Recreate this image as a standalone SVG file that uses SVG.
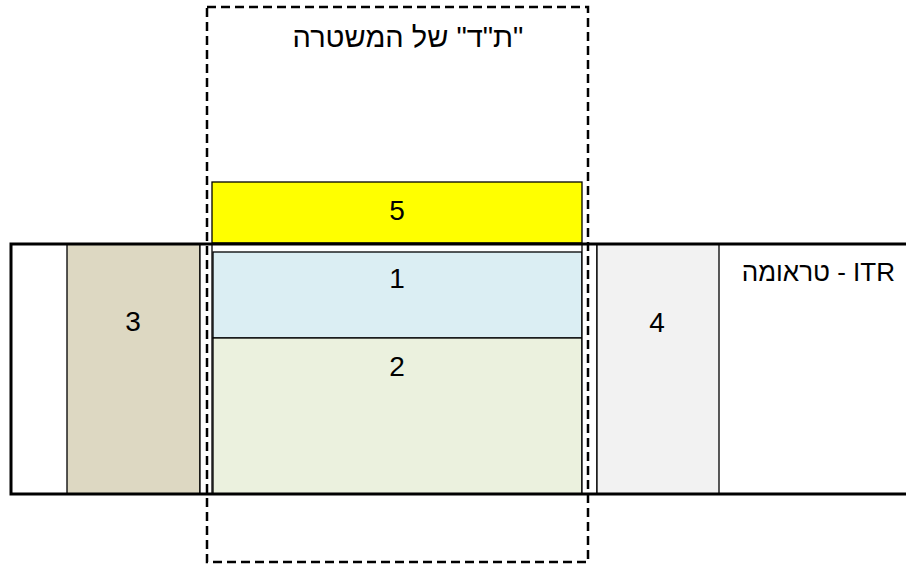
<svg xmlns="http://www.w3.org/2000/svg" width="906" height="564" viewBox="0 0 906 564">
<style>
.box{stroke:#000;stroke-width:1.3}
.lbl{font-family:"Liberation Sans",Arial,sans-serif;font-size:28px;text-anchor:middle;fill:#000}
.heb{font-family:"Liberation Sans",Arial,sans-serif;fill:#000}
.frame{stroke:#000;stroke-width:3;fill:none}
</style>
<rect width="906" height="564" fill="#fff"/>
<g id="node-3"><rect class="box" x="67" y="244" width="133" height="250" fill="#DDD8C2"/><text class="lbl" x="133" y="331">3</text></g>
<g id="gap-left"><rect class="box" x="200" y="244" width="12" height="250" fill="#fff"/></g>
<g id="node-1"><rect class="box" x="213" y="252" width="369" height="86" fill="#DBEEF3"/><text class="lbl" x="397" y="288">1</text></g>
<g id="node-2"><rect class="box" x="213" y="338" width="369" height="156" fill="#EBF1DE"/><text class="lbl" x="397" y="376">2</text></g>
<g id="gap-right"><rect class="box" x="582" y="244" width="15" height="250" fill="#fff"/></g>
<g id="node-4"><rect class="box" x="597" y="244" width="122" height="250" fill="#F2F2F2"/><text class="lbl" x="657" y="332">4</text></g>
<g id="node-5"><rect class="box" x="212" y="182" width="370" height="61" fill="#FFFF00"/><text class="lbl" x="397" y="220">5</text></g>
<g id="frame"><path class="frame" d="M906,244 H11 V494 H906"/></g>
<g id="police"><rect x="207" y="7" width="381" height="555" fill="none" stroke="#000" stroke-width="2.5" stroke-dasharray="9,5"/><text class="heb" x="408" y="47" font-size="29" text-anchor="middle" direction="rtl">"ת"ד" של המשטרה</text></g>
<g id="trauma"><text class="heb" x="895" y="281" font-size="26" text-anchor="start" direction="rtl">ITR - טראומה</text></g>
</svg>
